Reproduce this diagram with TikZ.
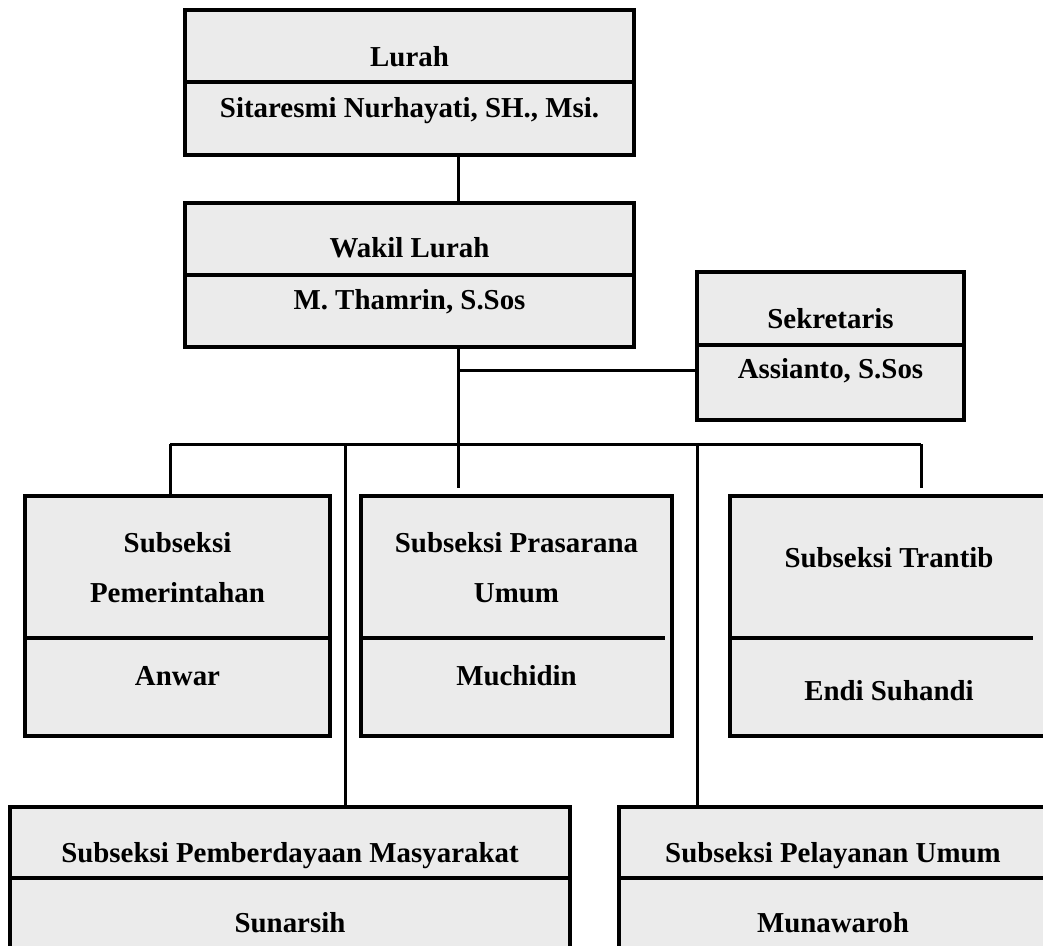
\documentclass[tikz,border=0pt]{standalone}
\usepackage{fontspec}
\setmainfont{Liberation Serif}
\definecolor{boxfill}{HTML}{EBEBEB}
\begin{document}
\begin{tikzpicture}[x=1bp,y=-1bp,
  box/.style={draw=black, line width=3.5bp, fill=boxfill, inner sep=0pt},
  divider/.style={draw=black, line width=3.5bp},
  conn/.style={draw=black, line width=3bp},
  lbl/.style={anchor=base, inner sep=0pt, font=\fontsize{29}{34}\selectfont\bfseries}]
\useasboundingbox (0,0) rectangle (1043,946);
\fill[white] (0,0) rectangle (1043,946);
\clip (0,0) rectangle (1043,946);

% Lurah
\node[box, minimum width=449bp, minimum height=145bp] (lurah) at (409.5,82.5) {};
\draw[divider] (185,82) -- (634,82);
\node[lbl] (lurahA) at (409.5,66) {Lurah};
\node[lbl] (lurahB) at (409.5,117) {Sitaresmi Nurhayati, SH., Msi.};

% Wakil Lurah
\node[box, minimum width=449bp, minimum height=144bp] (wakil) at (409.5,275) {};
\draw[divider] (185,275) -- (634,275);
\node[lbl] (wakilA) at (409.5,257) {Wakil Lurah};
\node[lbl] (wakilB) at (409.5,309) {M. Thamrin, S.Sos};

% Sekretaris
\node[box, minimum width=267bp, minimum height=148bp] (sek) at (830.5,346) {};
\draw[divider] (697,345) -- (964,345);
\node[lbl] (sekA) at (830.5,328) {Sekretaris};
\node[lbl] (sekB) at (830.5,378) {Assianto, S.Sos};

% Row 1
\node[box, minimum width=305bp, minimum height=240bp] (pem) at (177.5,616) {};
\draw[divider] (25,638) -- (330,638);
\node[lbl] (pemA) at (177.5,552) {Subseksi};
\node[lbl] (pemB) at (177.5,602) {Pemerintahan};
\node[lbl] (pemC) at (177.5,685) {Anwar};

\node[box, minimum width=311bp, minimum height=240bp] (pras) at (516.5,616) {};
\draw[divider] (361,638) -- (665,638);
\node[lbl] (prasA) at (516.5,552) {Subseksi Prasarana};
\node[lbl] (prasB) at (516.5,602) {Umum};
\node[lbl] (prasC) at (516.5,685) {Muchidin};

\node[box, minimum width=318bp, minimum height=240bp] (tran) at (889,616) {};
\draw[divider] (730,638) -- (1033,638);
\node[lbl] (tranA) at (889,567) {Subseksi Trantib};
\node[lbl] (tranB) at (889,700) {Endi Suhandi};

% Row 2
\node[box, minimum width=560bp, minimum height=183bp] (pemb) at (290,898.5) {};
\draw[divider] (10,878) -- (570,878);
\node[lbl] (pembA) at (290,862) {Subseksi Pemberdayaan Masyarakat};
\node[lbl] (pembB) at (290,932) {Sunarsih};

\node[box, minimum width=428bp, minimum height=183bp] (pel) at (833,898.5) {};
\draw[divider] (619,878) -- (1047,878);
\node[lbl] (pelA) at (833,862) {Subseksi Pelayanan Umum};
\node[lbl] (pelB) at (833,932) {Munawaroh};

% Connectors
\coordinate (trunk) at (458,0);
\coordinate (sekj) at (458,370);
\coordinate (bus) at (458,444);
\coordinate (busL) at (170,444);
\coordinate (busR) at (921,444);
\coordinate (b2) at (345,444);
\coordinate (b4) at (697,444);
\draw[conn] (lurah.south -| trunk) -- (wakil.north -| trunk);
\draw[conn] (wakil.south -| trunk) -- (bus);
\draw[conn] (sekj) -- (sekj -| sek.west);
\draw[conn] (busL) -- (busR);
\draw[conn] (busL) -- (busL |- pem.north);
\draw[conn] (b2) -- (b2 |- pemb.north);
\draw[conn] (bus) -- ([yshift=6bp]bus |- pras.north);
\draw[conn] (b4) -- (b4 |- pel.north);
\draw[conn] (busR) -- ([yshift=6bp]busR |- tran.north);
\end{tikzpicture}
\end{document}
